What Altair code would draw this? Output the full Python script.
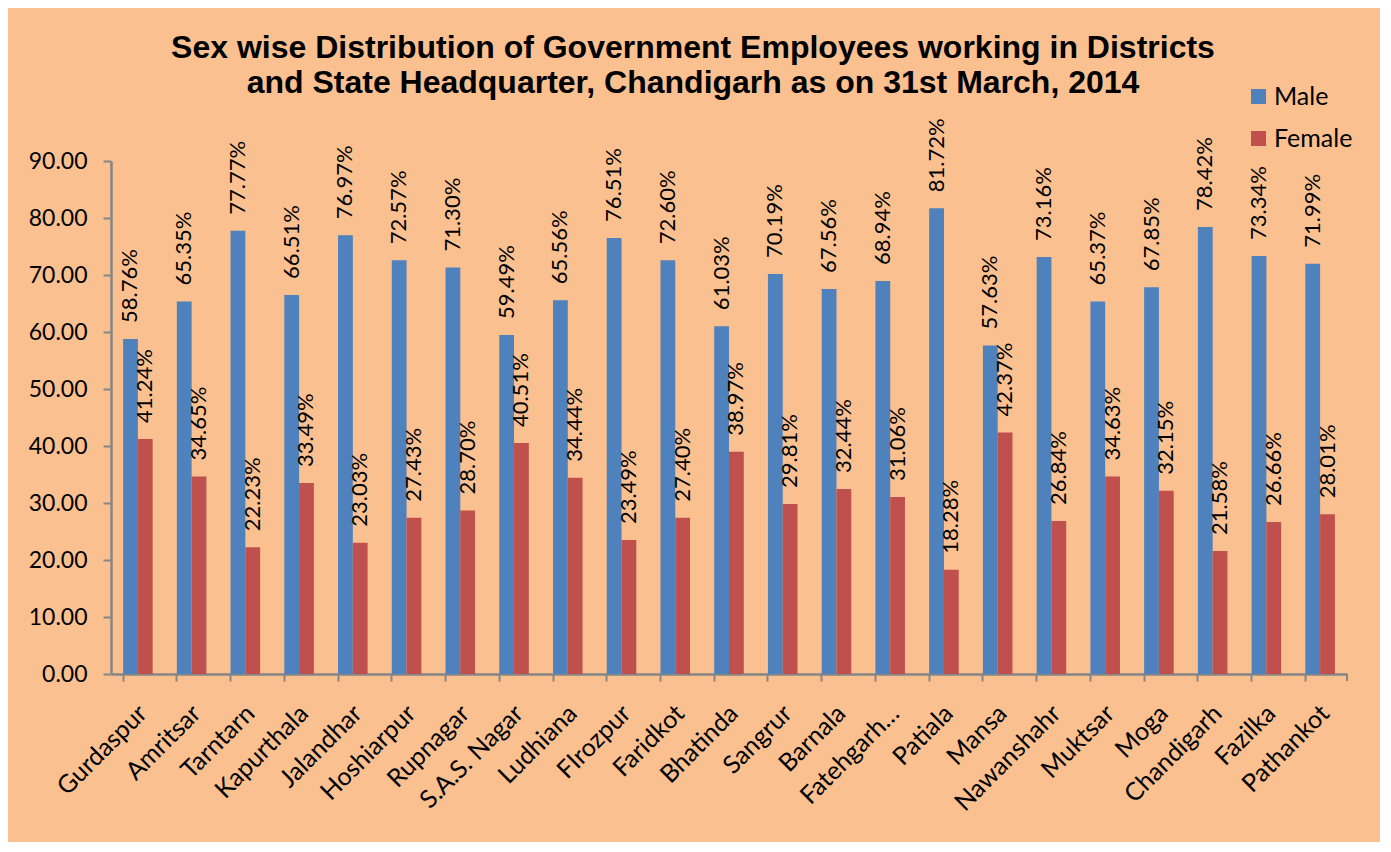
import altair as alt
import pandas as pd

districts = ["Gurdaspur", "Amritsar", "Tarntarn", "Kapurthala", "Jalandhar", "Hoshiarpur",
             "Rupnagar", "S.A.S. Nagar", "Ludhiana", "FIrozpur", "Faridkot", "Bhatinda",
             "Sangrur", "Barnala", "Fatehgarh…", "Patiala", "Mansa", "Nawanshahr",
             "Muktsar", "Moga", "Chandigarh", "Fazilka", "Pathankot"]
male = [58.76, 65.35, 77.77, 66.51, 76.97, 72.57, 71.30, 59.49, 65.56, 76.51, 72.60, 61.03,
        70.19, 67.56, 68.94, 81.72, 57.63, 73.16, 65.37, 67.85, 78.42, 73.34, 71.99]
female = [41.24, 34.65, 22.23, 33.49, 23.03, 27.43, 28.70, 40.51, 34.44, 23.49, 27.40, 38.97,
          29.81, 32.44, 31.06, 18.28, 42.37, 26.84, 34.63, 32.15, 21.58, 26.66, 28.01]
series = ["Male", "Female"]
colors = ["#4F81BD", "#C0504D"]
y_ticks = [0, 10, 20, 30, 40, 50, 60, 70, 80, 90]

rows = []
for d, m, f in zip(districts, male, female):
    rows.append({"District": d, "Sex": "Male", "Value": m})
    rows.append({"District": d, "Sex": "Female", "Value": f})
df = pd.DataFrame(rows)

W, H = 1236, 513
LABEL_FONT = "Lato"

x_enc = alt.X("District:N", sort=districts,
              scale=alt.Scale(paddingInner=0.45, paddingOuter=0.225),
              axis=alt.Axis(title=None, labelAngle=-45, labelAlign="right", labelBaseline="middle",
                            labelFont=LABEL_FONT, labelFontSize=25, labelColor="#000000",
                            labelPadding=28, labelOffset=5, bandPosition=0,
                            tickSize=7, tickColor="#868686", tickWidth=2,
                            domainColor="#868686", domainWidth=2.5, grid=False))
y_enc = alt.Y("Value:Q", scale=alt.Scale(domain=[0, 90], nice=False),
              axis=alt.Axis(title=None, values=y_ticks, format=".2f",
                            labelFont=LABEL_FONT, labelFontSize=23, labelColor="#000000",
                            labelPadding=16, tickSize=8, tickColor="#868686", tickWidth=2,
                            domainColor="#868686", domainWidth=2.5, grid=False))
xoff = alt.XOffset("Sex:N", sort=series, scale=alt.Scale(paddingInner=0, paddingOuter=0))
color_enc = alt.Color("Sex:N", sort=series,
                      scale=alt.Scale(domain=series, range=colors),
                      legend=alt.Legend(title=None, orient="none", legendX=1135, legendY=-77,
                                        symbolType="square", symbolSize=225, symbolStrokeWidth=0,
                                        labelFont=LABEL_FONT, labelFontSize=25, labelColor="#000000",
                                        rowPadding=16, labelOffset=3))

bars = alt.Chart(df).mark_bar().encode(
    x=x_enc, xOffset=xoff, y=y_enc, color=color_enc
)

labels = alt.Chart(df).transform_calculate(
    lbl="format(datum.Value, '.2f') + '%'"
).mark_text(angle=270, align="left", baseline="middle", dx=16,
            font=LABEL_FONT, fontSize=22, color="#000000").encode(
    x=alt.X("District:N", sort=districts), xOffset=alt.XOffset("Sex:N", sort=series),
    y="Value:Q", text="lbl:N"
)

end_tick = alt.Chart(pd.DataFrame({"k": [0]})).mark_rule(color="#868686", strokeWidth=2).encode(
    x=alt.value(W), y=alt.value(H), y2=alt.value(H + 7)
)

chart = alt.layer(bars, labels, end_tick).properties(
    width=W, height=H,
    title=alt.TitleParams(
        text=["Sex wise Distribution of Government Employees working in Districts",
              "and State Headquarter, Chandigarh as on 31st March, 2014"],
        font="Liberation Sans", fontSize=32, fontWeight="bold", color="#000000",
        anchor="middle", dx=-36, dy=80, offset=64, lineHeight=35),
    autosize=alt.AutoSizeParams(type="none"),
    padding={"left": 103, "top": 153, "right": 33, "bottom": 168},
    background="#FAC090"
).configure_view(stroke=None).resolve_scale(x="shared")

chart.save("out.html", embed_options={"renderer": "svg", "actions": False})
